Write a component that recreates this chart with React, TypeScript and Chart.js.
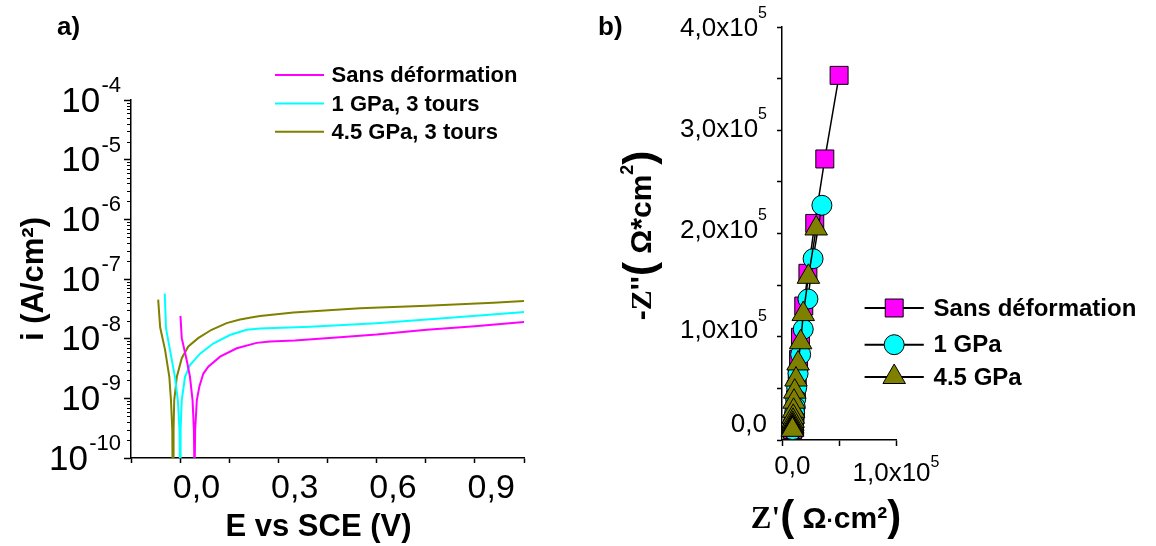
import React, { useEffect, useRef } from "react";
import { Chart, registerables } from "chart.js";
Chart.register(...registerables);

const SANS = "'Liberation Sans', Arial, sans-serif";
const SERIF = "'Liberation Serif', 'Times New Roman', serif";

// ---------- Panel a) : polarisation curves ----------
const seriesNamesA = ["Sans déformation", "1 GPa, 3 tours", "4.5 GPa, 3 tours"];
const colorsA = ["#FF00FF", "#00FFFF", "#808000"];

const eSans = [-0.049, -0.045, -0.03, -0.02, -0.012, -0.008, -0.006, -0.005, -0.004, 0.001, 0.009, 0.021, 0.036, 0.072, 0.123, 0.184, 0.224, 0.3, 0.448, 0.55, 0.703, 0.85, 1.0];
const iSans = [2.4e-8, 1.02e-8, 4.4e-9, 2.3e-9, 9.3e-10, 3.0e-10, 5e-11, 5e-11, 3.0e-10, 9.3e-10, 1.6e-9, 2.6e-9, 3.4e-9, 5.0e-9, 6.9e-9, 8.5e-9, 9.0e-9, 9.3e-9, 1.07e-8, 1.17e-8, 1.41e-8, 1.62e-8, 1.9e-8];

const e1GPa = [-0.097, -0.093, -0.081, -0.066, -0.057, -0.052, -0.05, -0.049, -0.048, -0.045, -0.035, -0.02, 0.011, 0.051, 0.102, 0.153, 0.194, 0.347, 0.55, 0.754, 0.983, 1.0];
const i1GPa = [5.7e-8, 1.48e-8, 6.5e-9, 2.3e-9, 9.3e-10, 3.0e-10, 5e-11, 5e-11, 3.0e-10, 9.3e-10, 2.3e-9, 3.6e-9, 5.6e-9, 8.3e-9, 1.15e-8, 1.41e-8, 1.48e-8, 1.58e-8, 1.82e-8, 2.19e-8, 2.75e-8, 2.8e-8];

const e45GPa = [-0.117, -0.111, -0.096, -0.083, -0.078, -0.074, -0.073, -0.071, -0.07, -0.068, -0.06, -0.045, -0.025, 0.005, 0.046, 0.092, 0.133, 0.171, 0.194, 0.296, 0.499, 0.703, 0.906, 1.0];
const i45GPa = [4.5e-8, 1.55e-8, 6.5e-9, 2.3e-9, 9.3e-10, 3.0e-10, 5e-11, 5e-11, 3.0e-10, 9.3e-10, 2.3e-9, 4.7e-9, 7.4e-9, 1.02e-8, 1.41e-8, 1.82e-8, 2.09e-8, 2.29e-8, 2.4e-8, 2.75e-8, 3.24e-8, 3.55e-8, 3.98e-8, 4.27e-8];

const xTickValsA = [0, 0.3, 0.6, 0.9];
const xTickLabelsA = ["0,0", "0,3", "0,6", "0,9"];
const yDecadesA = [1e-4, 1e-5, 1e-6, 1e-7, 1e-8, 1e-9, 1e-10];
const yExpLabelsA = ["-4", "-5", "-6", "-7", "-8", "-9", "-10"];
const xTitleA = "E vs SCE (V)";
const yTitleA = "i (A/cm\u00B2)";

// ---------- Panel b) : Nyquist ----------
const seriesNamesB = ["Sans déformation", "1 GPa", "4.5 GPa"];
const colorsB = ["#FF00FF", "#00FFFF", "#808000"];
const stylesB = ["rect", "circle", "triangle"];
const radiiB = [12.7, 10, 13];

const zReSans = [45100, 31300, 21600, 15000, 11000, 7800, 6000, 4700, 3800, 3100, 2600, 2200, 1900, 1600, 1300, 1000, 800, 600, 400, 200];
const zImSans = [352000, 269000, 205000, 155500, 123000, 92000, 70000, 53000, 40000, 30000, 22000, 16000, 12000, 8500, 6000, 4000, 2500, 1500, 800, 300];

const zRe1GPa = [28500, 20000, 15000, 10500, 8000, 5500, 4200, 3300, 2700, 2200, 1800, 1500, 1200, 1000, 800, 600, 400, 300];
const zIm1GPa = [223000, 170000, 130000, 100000, 75000, 56000, 42000, 31000, 23000, 17000, 12000, 8500, 6000, 4000, 2500, 1500, 800, 300];

const zRe45GPa = [23000, 15500, 10500, 8000, 5500, 3500, 2300, 1600, 1200, 900, 700, 500, 400, 300, 200, 150, 100, 50];
const zIm45GPa = [200000, 152000, 115000, 87000, 66000, 50000, 38000, 28000, 19000, 13000, 9000, 6000, 4000, 2500, 1500, 800, 300, 100];

const xTickValsB = [0, 100000];
const xTickMainB = ["0,0", "1,0x10"];
const xTickSupB = ["", "5"];
const yTickValsB = [0, 100000, 200000, 300000, 400000];
const yTickMainB = ["0,0", "1,0x10", "2,0x10", "3,0x10", "4,0x10"];
const yTickSupB = ["", "5", "5", "5", "5"];

type Seg = { t: string; f: string; dy?: number };

function segsWidth(ctx: CanvasRenderingContext2D, segs: Seg[]) {
  let w = 0;
  for (const s of segs) {
    ctx.font = s.f;
    w += ctx.measureText(s.t).width;
  }
  return w;
}
function drawSegs(ctx: CanvasRenderingContext2D, segs: Seg[], x: number, y: number, align: "left" | "center" | "right") {
  const w = segsWidth(ctx, segs);
  let cx = align === "left" ? x : align === "center" ? x - w / 2 : x - w;
  ctx.textAlign = "left";
  for (const s of segs) {
    ctx.font = s.f;
    ctx.fillText(s.t, cx, y + (s.dy || 0));
    cx += ctx.measureText(s.t).width;
  }
}

function drawMarker(ctx: CanvasRenderingContext2D, style: string, x: number, y: number, r: number, fill: string) {
  ctx.beginPath();
  if (style === "rect") {
    const s = Math.SQRT1_2 * r;
    ctx.rect(x - s, y - s, 2 * s, 2 * s);
  } else if (style === "circle") {
    ctx.arc(x, y, r, 0, Math.PI * 2);
  } else {
    const a = (2 * Math.PI) / 3;
    ctx.moveTo(x, y - r);
    ctx.lineTo(x + Math.sin(a) * r, y - Math.cos(a) * r);
    ctx.lineTo(x + Math.sin(2 * a) * r, y - Math.cos(2 * a) * r);
    ctx.closePath();
  }
  ctx.fillStyle = fill;
  ctx.fill();
  ctx.strokeStyle = "#000";
  ctx.lineWidth = 1;
  ctx.stroke();
}

const leftDecor = {
  id: "leftDecor",
  afterDraw(chart: any) {
    const ctx = chart.ctx as CanvasRenderingContext2D;
    const xs = chart.scales.x;
    const ys = chart.scales.y;
    const area = chart.chartArea;
    ctx.save();
    // minor ticks of the log axis
    ctx.strokeStyle = "#000";
    ctx.lineWidth = 1;
    for (let d = 1; d < yDecadesA.length; d++) {
      const base = yDecadesA[d];
      for (let k = 2; k <= 9; k++) {
        const py = Math.round(ys.getPixelForValue(base * k)) + 0.5;
        ctx.beginPath();
        ctx.moveTo(area.left - 4, py);
        ctx.lineTo(area.left, py);
        ctx.stroke();
      }
    }
    // decade labels with superscripts
    ctx.fillStyle = "#000";
    ctx.textBaseline = "middle";
    yDecadesA.forEach((v, i) => {
      const py = ys.getPixelForValue(v);
      drawSegs(
        ctx,
        [
          { t: "10", f: `35px ${SANS}`, dy: 2 },
          { t: "\u2009", f: `6px ${SANS}` },
          { t: yExpLabelsA[i], f: `22px ${SANS}`, dy: -14 },
        ],
        121,
        py,
        "right"
      );
    });
    // x tick labels
    xTickValsA.forEach((v, i) => {
      const px = xs.getPixelForValue(v);
      drawSegs(ctx, [{ t: xTickLabelsA[i], f: `34px ${SANS}` }], px, area.bottom + 31, "center");
    });
    // x title
    drawSegs(ctx, [{ t: xTitleA, f: `bold 31px ${SANS}` }], 318.5, 527.5, "center");
    // panel label
    ctx.textBaseline = "alphabetic";
    ctx.textAlign = "left";
    ctx.font = `bold 26px ${SANS}`;
    ctx.fillText("a)", 57, 35);
    // legend
    const rows = [75, 103.5, 131.7];
    seriesNamesA.forEach((n, i) => {
      ctx.strokeStyle = colorsA[i];
      ctx.lineWidth = 2;
      ctx.beginPath();
      ctx.moveTo(275, rows[i]);
      ctx.lineTo(324, rows[i]);
      ctx.stroke();
      ctx.fillStyle = "#000";
      ctx.font = `bold 22px ${SANS}`;
      ctx.textBaseline = "middle";
      ctx.fillText(n, 331.6, rows[i] + 1);
    });
    ctx.restore();
  },
};

const rightDecor = {
  id: "rightDecor",
  afterDraw(chart: any) {
    const ctx = chart.ctx as CanvasRenderingContext2D;
    const xs = chart.scales.x;
    const ys = chart.scales.y;
    ctx.save();
    ctx.fillStyle = "#000";
    ctx.textBaseline = "middle";
    // y tick labels
    yTickValsB.forEach((v, i) => {
      const py = ys.getPixelForValue(v);
      if (yTickSupB[i]) {
        drawSegs(
          ctx,
          [
            { t: yTickMainB[i], f: `26px ${SANS}`, dy: 2 },
            { t: yTickSupB[i], f: `16px ${SANS}`, dy: -13 },
          ],
          189,
          py,
          "right"
        );
      } else {
        drawSegs(ctx, [{ t: yTickMainB[i], f: `26px ${SANS}`, dy: -5 }], 189, py, "right");
      }
    });
    // x tick labels
    const xb = chart.chartArea.bottom;
    xTickValsB.forEach((v, i) => {
      const px = xs.getPixelForValue(v);
      if (xTickSupB[i]) {
        drawSegs(
          ctx,
          [
            { t: xTickMainB[i], f: `26px ${SANS}`, dy: 33.5 },
            { t: xTickSupB[i], f: `16px ${SANS}`, dy: 22.7 },
          ],
          px,
          xb,
          "center"
        );
      } else {
        drawSegs(ctx, [{ t: xTickMainB[i], f: `26px ${SANS}`, dy: 27 }], px, xb, "center");
      }
    });
    // x title
    ctx.textBaseline = "alphabetic";
    drawSegs(
      ctx,
      [
        { t: "Z'", f: `bold 31px ${SERIF}` },
        { t: "(", f: `bold 42px ${SANS}`, dy: 2 },
        { t: " \u03A9", f: `bold 30px ${SANS}` },
        { t: "\u00B7", f: `bold 22px ${SANS}` },
        { t: "cm\u00B2", f: `bold 30px ${SANS}` },
        { t: ")", f: `bold 42px ${SANS}`, dy: 2 },
      ],
      248,
      528,
      "center"
    );
    // y title (rotated)
    ctx.save();
    ctx.translate(73, 235.5);
    ctx.rotate(-Math.PI / 2);
    drawSegs(
      ctx,
      [
        { t: "-", f: `bold 30px ${SANS}` },
        { t: "Z", f: `bold 30px ${SERIF}` },
        { t: "''", f: `bold 30px ${SANS}` },
        { t: "(", f: `bold 42px ${SANS}`, dy: 2 },
        { t: " \u03A9*cm", f: `bold 30px ${SANS}` },
        { t: "2", f: `bold 18px ${SANS}`, dy: -18 },
        { t: ")", f: `bold 42px ${SANS}`, dy: 2 },
      ],
      0,
      0,
      "center"
    );
    ctx.restore();
    // panel label
    ctx.textAlign = "left";
    ctx.font = `bold 26px ${SANS}`;
    ctx.fillText("b)", 20, 35);
    // legend
    const rows = [308, 344.7, 377];
    seriesNamesB.forEach((n, i) => {
      ctx.strokeStyle = "#000";
      ctx.lineWidth = 2;
      ctx.beginPath();
      ctx.moveTo(286.6, rows[i]);
      ctx.lineTo(345.8, rows[i]);
      ctx.stroke();
      drawMarker(ctx, stylesB[i], 316.2, rows[i], radiiB[i], colorsB[i]);
      ctx.fillStyle = "#000";
      ctx.font = `bold 24px ${SANS}`;
      ctx.textBaseline = "middle";
      ctx.textAlign = "left";
      ctx.fillText(n, 355.6, rows[i] + 1);
    });
    ctx.restore();
  },
};

function pairs(xs: number[], ys: number[]) {
  return xs.map((x, k) => ({ x, y: ys[k] }));
}

export default function App() {
  const leftRef = useRef<HTMLCanvasElement>(null);
  const rightRef = useRef<HTMLCanvasElement>(null);

  useEffect(() => {
    Chart.defaults.font.family = SANS;
    const seriesA = [
      [eSans, iSans],
      [e1GPa, i1GPa],
      [e45GPa, i45GPa],
    ];
    const left = new Chart(leftRef.current as HTMLCanvasElement, {
      type: "scatter",
      data: {
        datasets: seriesA.map(([e, i], k) => ({
          label: seriesNamesA[k],
          data: pairs(e, i),
          borderColor: colorsA[k],
          backgroundColor: colorsA[k],
          borderWidth: 2,
          pointRadius: 0,
          showLine: true,
          tension: 0,
        })),
      },
      options: {
        responsive: false,
        animation: false,
        devicePixelRatio: 1,
        layout: { padding: { left: 0, top: 100, right: 54, bottom: 0 } },
        plugins: { legend: { display: false }, tooltip: { enabled: false } },
        scales: {
          x: {
            type: "linear",
            position: "bottom",
            min: -0.2,
            max: 1.0,
            afterFit: (s: any) => {
              s.height = 88;
            },
            ticks: { display: false, stepSize: 0.15, includeBounds: false },
            grid: { display: true, drawOnChartArea: false, drawTicks: true, tickLength: 5, tickColor: "#000", tickWidth: 1.5, color: "#000" },
            border: { display: true, color: "#000", width: 1.5 },
          },
          y: {
            type: "logarithmic",
            min: 1e-10,
            max: 1e-4,
            afterFit: (s: any) => {
              s.width = 131;
            },
            afterBuildTicks: (s: any) => {
              s.ticks = yDecadesA.map((v) => ({ value: v }));
            },
            ticks: { display: false },
            grid: { display: true, drawOnChartArea: false, drawTicks: true, tickLength: 7, tickColor: "#000", tickWidth: 1.5, color: "#000" },
            border: { display: true, color: "#000", width: 1.5 },
            title: { display: true, text: yTitleA, color: "#000", font: { family: SANS, size: 31, weight: "bold" }, padding: { top: 16, bottom: 0 } },
          },
        },
      } as any,
      plugins: [leftDecor],
    });

    const seriesB = [
      [zReSans, zImSans],
      [zRe1GPa, zIm1GPa],
      [zRe45GPa, zIm45GPa],
    ];
    const right = new Chart(rightRef.current as HTMLCanvasElement, {
      type: "scatter",
      data: {
        datasets: seriesB.map(([x, y], k) => ({
          label: seriesNamesB[k],
          data: pairs(x, y),
          borderColor: "#000",
          backgroundColor: colorsB[k],
          borderWidth: 1.5,
          pointStyle: stylesB[k],
          pointRadius: radiiB[k],
          pointBackgroundColor: colorsB[k],
          pointBorderColor: "#000",
          pointBorderWidth: 1,
          showLine: true,
          tension: 0,
          clip: false,
          order: 2 - k,
        })),
      },
      options: {
        responsive: false,
        animation: false,
        devicePixelRatio: 1,
        layout: { padding: { left: 0, top: 27, right: 260, bottom: 0 } },
        plugins: { legend: { display: false }, tooltip: { enabled: false } },
        scales: {
          x: {
            type: "linear",
            position: "bottom",
            min: -10000,
            max: 100000,
            afterFit: (s: any) => {
              s.height = 106;
            },
            ticks: { display: false, stepSize: 50000, includeBounds: false },
            grid: { display: true, drawOnChartArea: false, drawTicks: true, tickLength: 6, tickColor: "#000", tickWidth: 1.5, color: "#000" },
            border: { display: true, color: "#000", width: 1.5 },
          },
          y: {
            type: "linear",
            min: -10000,
            max: 400000,
            afterFit: (s: any) => {
              s.width = 204;
            },
            ticks: { display: false, stepSize: 50000, includeBounds: false },
            grid: { display: true, drawOnChartArea: false, drawTicks: true, tickLength: 5, tickColor: "#000", tickWidth: 1.5, color: "#000" },
            border: { display: true, color: "#000", width: 1.5 },
          },
        },
      } as any,
      plugins: [rightDecor],
    });

    return () => {
      left.destroy();
      right.destroy();
    };
  }, []);

  return (
    <div style={{ position: "absolute", left: 0, top: 0, width: 1156, height: 546, background: "#fff", overflow: "hidden" }}>
      <canvas ref={leftRef} width={578} height={546} style={{ position: "absolute", left: 0, top: 0, width: 578, height: 546 }} />
      <canvas ref={rightRef} width={578} height={546} style={{ position: "absolute", left: 578, top: 0, width: 578, height: 546 }} />
    </div>
  );
}
